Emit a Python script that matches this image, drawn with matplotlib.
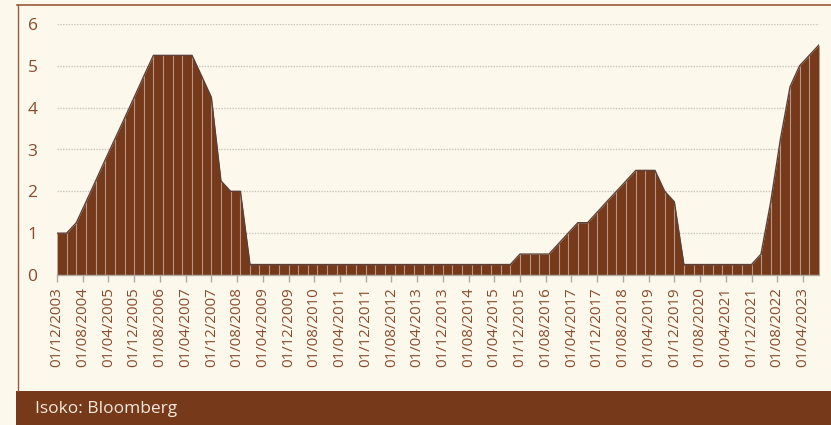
import numpy as np
import pandas as pd
import matplotlib
matplotlib.use("Agg")
import matplotlib.pyplot as plt
import matplotlib.dates as mdates
from matplotlib.patches import Rectangle
from matplotlib.lines import Line2D

# quarterly fed funds target (upper bound), Dec 2003 .. Sep 2023
dates = pd.date_range("2003-12-01", "2023-09-01", freq="3MS")
rate = [1.00, 1.00, 1.25, 1.75, 2.25, 2.75, 3.25, 3.75, 4.25, 4.75,
        5.25, 5.25, 5.25, 5.25, 5.25, 4.75, 4.25, 2.25, 2.00, 2.00,
        0.25, 0.25, 0.25, 0.25, 0.25, 0.25, 0.25, 0.25, 0.25, 0.25,
        0.25, 0.25, 0.25, 0.25, 0.25, 0.25, 0.25, 0.25, 0.25, 0.25,
        0.25, 0.25, 0.25, 0.25, 0.25, 0.25, 0.25, 0.25, 0.50, 0.50,
        0.50, 0.50, 0.75, 1.00, 1.25, 1.25, 1.50, 1.75, 2.00, 2.25,
        2.50, 2.50, 2.50, 2.00, 1.75, 0.25, 0.25, 0.25, 0.25, 0.25,
        0.25, 0.25, 0.25, 0.50, 1.75, 3.25, 4.50, 5.00, 5.25, 5.50]
tick_dates = pd.date_range("2003-12-01", "2023-04-01", freq="8MS")
source = "Isoko: Bloomberg"

bg = "#fcf9ec"
brown = "#763a1b"
label_col = "#8a4a2a"

plt.rcParams["font.family"] = ["Open Sans", "DejaVu Sans"]

fig = plt.figure(figsize=(8.31, 4.25), dpi=100, facecolor=bg)
ax = fig.add_axes([57 / 831, 150 / 425, 762 / 831, 251 / 425])
ax.set_facecolor(bg)

ax.fill_between(dates, rate, 0, color=brown, lw=0, zorder=2)
ax.vlines(dates, 0, rate, color="#c9ada0", lw=0.8, alpha=0.8, zorder=3)
ax.plot(dates, rate, color="#5a4038", lw=1.0, zorder=4)

ax.set_xlim(dates[0], dates[-1])
ax.set_ylim(0, 6)
ax.set_yticks(range(0, 7))
ax.yaxis.grid(True, ls=(0, (1, 1)), color="#c8c4bc", lw=1.0, zorder=1)
ax.set_axisbelow(True)

ax.set_xticks(tick_dates)
ax.set_xticklabels([d.strftime("%d/%m/%Y") for d in tick_dates], rotation=90)
ax.tick_params(axis="x", colors="#b0aaa4", length=5, width=1, pad=4,
               labelcolor=label_col, labelsize=10.8)
ax.tick_params(axis="y", length=0, pad=14, labelcolor=label_col, labelsize=12.5)

for s in ["top", "right", "left"]:
    ax.spines[s].set_visible(False)
ax.spines["bottom"].set_color("#b0aaa4")
ax.spines["bottom"].set_linewidth(1.0)
ax.spines["bottom"].set_zorder(5)

# frame lines and source band
fig.add_artist(Line2D([17.5 / 831, 17.5 / 831], [34 / 425, 420.5 / 425],
                      color="#9a5a3a", lw=1.0))
fig.add_artist(Line2D([17 / 831, 1.0], [420.5 / 425, 420.5 / 425],
                      color="#9a5a3a", lw=1.2))
fig.add_artist(Rectangle((16 / 831, 0), 1, 34 / 425, color=brown, lw=0))
fig.text(35 / 831, 16 / 425, source, color="#f3e9dc", fontsize=12.5,
         va="center", ha="left")

fig.savefig("out.png", dpi=100, facecolor=bg)
